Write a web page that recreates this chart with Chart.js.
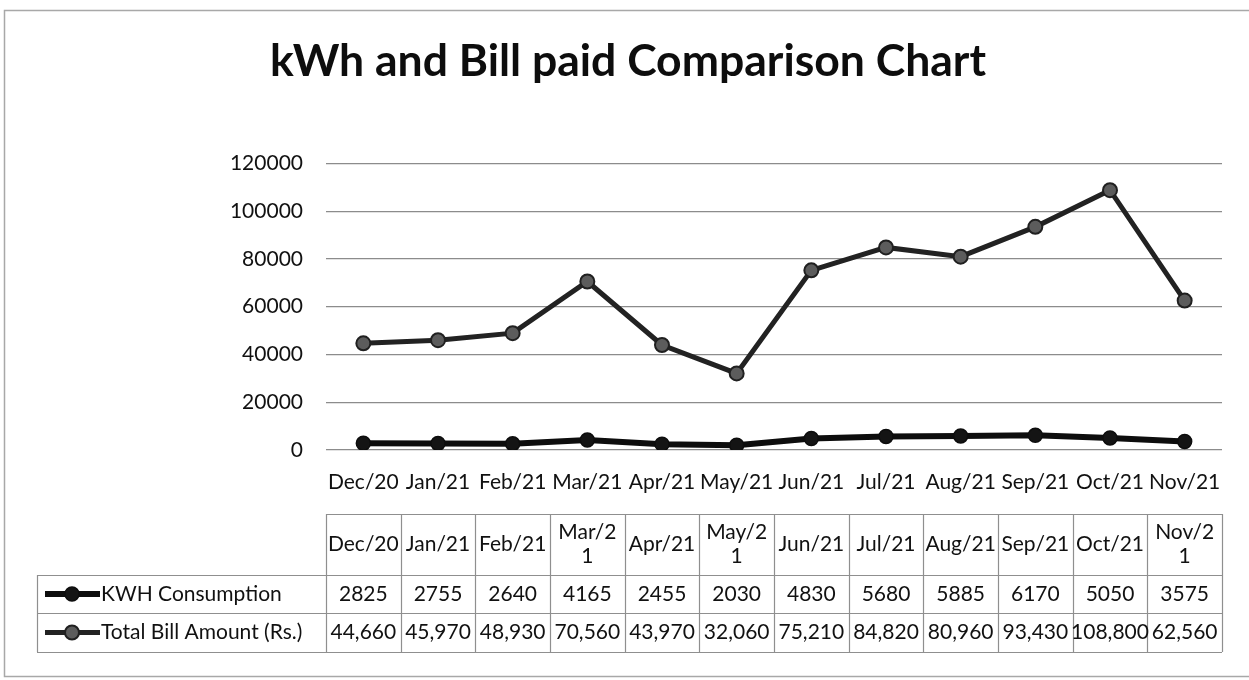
<!DOCTYPE html>
<html lang="en">
<head>
    <meta charset="UTF-8">
    <title>kWh and Bill paid Comparison Chart</title>
    <style>
        body {
            margin: 0;
            background-color: #ffffff;
        }
        canvas {
            display: block;
        }
    </style>
    <script src="https://cdn.jsdelivr.net/npm/chart.js"></script>
</head>
<body>
    <canvas id="kwhChart" width="1249" height="680"></canvas>
    <script>
        // months on the x axis and in the table header
        const months = ['Dec/20', 'Jan/21', 'Feb/21', 'Mar/21', 'Apr/21', 'May/21',
                        'Jun/21', 'Jul/21', 'Aug/21', 'Sep/21', 'Oct/21', 'Nov/21'];
        // header cells as they are wrapped in the data table
        const tableHeader = ['Dec/20', 'Jan/21', 'Feb/21', 'Mar/2\n1', 'Apr/21', 'May/2\n1',
                             'Jun/21', 'Jul/21', 'Aug/21', 'Sep/21', 'Oct/21', 'Nov/2\n1'];
        const kwhConsumption = [2825, 2755, 2640, 4165, 2455, 2030, 4830, 5680, 5885, 6170, 5050, 3575];
        const totalBill = [44660, 45970, 48930, 70560, 43970, 32060, 75210, 84820, 80960, 93430, 108800, 62560];
        const yTicks = [0, 20000, 40000, 60000, 80000, 100000, 120000];

        const FONT = 'Lato, "Open Sans", sans-serif';
        const TEXT = '#111111';

        // white page with the thin frame round the whole chart
        const framePlugin = {
            id: 'frame',
            beforeDraw(chart) {
                const ctx = chart.ctx;
                ctx.save();
                ctx.fillStyle = '#ffffff';
                ctx.fillRect(0, 0, chart.width, chart.height);
                ctx.strokeStyle = '#a8a8a8';
                ctx.lineWidth = 1.5;
                ctx.strokeRect(4.5, 10.5, chart.width + 10, 666);
                ctx.restore();
            }
        };

        // data table under the x axis, columns follow the category scale
        const dataTablePlugin = {
            id: 'dataTable',
            afterDraw(chart) {
                const ctx = chart.ctx;
                const area = chart.chartArea;
                const xScale = chart.scales.x;
                const colW = (area.right - area.left) / months.length;
                const legendLeft = 37;
                const top = area.bottom + 64;
                const rowH = [61, 38, 39];
                const rows = [top, top + rowH[0], top + rowH[0] + rowH[1], top + rowH[0] + rowH[1] + rowH[2]];

                ctx.save();
                ctx.strokeStyle = '#8f8f8f';
                ctx.lineWidth = 1.2;

                // horizontal lines
                ctx.beginPath();
                ctx.moveTo(area.left, rows[0] + 0.5);
                ctx.lineTo(area.right, rows[0] + 0.5);
                for (let r = 1; r < rows.length; r++) {
                    ctx.moveTo(legendLeft, rows[r] + 0.5);
                    ctx.lineTo(area.right, rows[r] + 0.5);
                }
                // vertical lines
                ctx.moveTo(legendLeft + 0.5, rows[1]);
                ctx.lineTo(legendLeft + 0.5, rows[3]);
                for (let i = 0; i <= months.length; i++) {
                    const x = Math.round(area.left + i * colW) + 0.5;
                    ctx.moveTo(x, rows[0]);
                    ctx.lineTo(x, rows[3]);
                }
                ctx.stroke();

                ctx.fillStyle = TEXT;
                ctx.font = '21px ' + FONT;
                ctx.textAlign = 'center';
                ctx.textBaseline = 'middle';

                // header
                tableHeader.forEach((label, i) => {
                    const x = xScale.getPixelForValue(i);
                    const lines = label.split('\n');
                    const lh = 24;
                    const cy = rows[0] + rowH[0] / 2 - (lines.length - 1) * lh / 2;
                    lines.forEach((t, k) => ctx.fillText(t, x, cy + k * lh));
                });

                // value rows
                const series = [
                    { values: kwhConsumption, fmt: v => String(v) },
                    { values: totalBill, fmt: v => v.toLocaleString('en-US') }
                ];
                series.forEach((s, r) => {
                    const cy = rows[r + 1] + rowH[r + 1] / 2;
                    s.values.forEach((v, i) => {
                        ctx.fillText(s.fmt(v), xScale.getPixelForValue(i), cy);
                    });
                });

                // legend keys in the first column
                chart.data.datasets.forEach((ds, r) => {
                    const cy = rows[r + 1] + rowH[r + 1] / 2;
                    ctx.strokeStyle = ds.borderColor;
                    ctx.lineWidth = ds.borderWidth;
                    ctx.beginPath();
                    ctx.moveTo(45, cy);
                    ctx.lineTo(100, cy);
                    ctx.stroke();
                    ctx.beginPath();
                    ctx.arc(72, cy, ds.pointRadius, 0, Math.PI * 2);
                    ctx.fillStyle = ds.pointBackgroundColor;
                    ctx.fill();
                    ctx.lineWidth = ds.pointBorderWidth;
                    ctx.strokeStyle = ds.pointBorderColor;
                    ctx.stroke();
                    ctx.fillStyle = TEXT;
                    ctx.textAlign = 'left';
                    ctx.fillText(ds.label, 101, cy);
                });
                ctx.restore();
            }
        };

        new Chart(document.getElementById('kwhChart'), {
            type: 'line',
            data: {
                labels: months,
                datasets: [{
                    label: 'KWH Consumption',
                    data: kwhConsumption,
                    borderColor: '#0d0d0d',
                    borderWidth: 6,
                    pointRadius: 7,
                    pointBackgroundColor: '#141414',
                    pointBorderColor: '#0d0d0d',
                    pointBorderWidth: 1.5,
                    tension: 0
                }, {
                    label: 'Total Bill Amount (Rs.)',
                    data: totalBill,
                    borderColor: '#222222',
                    borderWidth: 5,
                    pointRadius: 7,
                    pointBackgroundColor: '#5c5c5c',
                    pointBorderColor: '#202020',
                    pointBorderWidth: 2,
                    tension: 0
                }]
            },
            options: {
                responsive: false,
                animation: false,
                layout: {
                    // left padding shifts the centred title to where it sits in the original
                    padding: { left: 34, right: 27, top: 0, bottom: 0 }
                },
                plugins: {
                    legend: { display: false },
                    tooltip: { enabled: false },
                    title: {
                        display: true,
                        text: 'kWh and Bill paid Comparison Chart',
                        color: '#0d0d0d',
                        font: { family: FONT, size: 44.5, weight: 'bold' },
                        padding: { top: 35, bottom: 75 }
                    }
                },
                scales: {
                    x: {
                        offset: true,
                        grid: { display: false, drawTicks: false },
                        border: { display: false },
                        ticks: {
                            color: TEXT,
                            font: { family: FONT, size: 21 },
                            padding: 20,
                            maxRotation: 0,
                            autoSkip: false
                        },
                        afterFit(scale) {
                            scale.height = 230;
                        }
                    },
                    y: {
                        min: 0,
                        max: 120000,
                        afterBuildTicks(scale) {
                            scale.ticks = yTicks.map(v => ({ value: v }));
                        },
                        grid: { color: '#8c8c8c', lineWidth: 1.2, drawTicks: false },
                        border: { display: false },
                        ticks: {
                            color: TEXT,
                            font: { family: FONT, size: 21 },
                            padding: 23,
                            callback: v => String(v)
                        },
                        afterFit(scale) {
                            scale.width = 292;
                        }
                    }
                }
            },
            plugins: [framePlugin, dataTablePlugin]
        });
    </script>
</body>
</html>
